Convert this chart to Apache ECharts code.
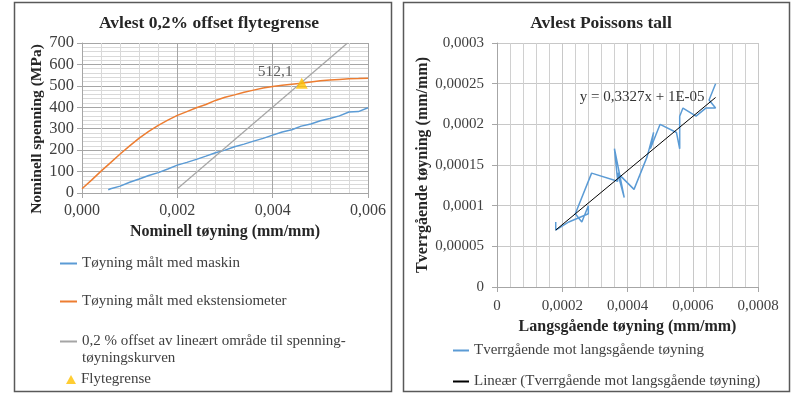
<!DOCTYPE html>
<html><head><meta charset="utf-8">
<script src="https://cdn.jsdelivr.net/npm/echarts@6/dist/echarts.min.js"></script>
<style>html,body{margin:0;padding:0;background:#fff}#c{width:793px;height:394px}</style>
</head><body><div id="c"></div>
<script>
// ---- Left chart data ----
const extX = [0,0.0002,0.0004,0.0006,0.0008,0.001,0.0012,0.0014,0.0016,0.0018,0.002,0.0022,0.0024,0.0026,0.0028,0.003,0.0032,0.0034,0.0036,0.0038,0.004,0.0042,0.0044,0.0046,0.0048,0.005,0.0052,0.0054,0.0056,0.0058,0.006];
const extY = [20,60,102,142,182,220,256,288,316,340,362,380,398,413,432,447,458,470,480,490,497,503,508,512,518,524,527,530,533,534,536];
const maskX = [0.00055,0.0006,0.0008,0.001,0.0012,0.0014,0.0016,0.0018,0.002,0.0022,0.0024,0.0026,0.0028,0.003,0.0032,0.0034,0.0036,0.0038,0.004,0.0042,0.0044,0.0046,0.0048,0.005,0.0052,0.0054,0.0056,0.0058,0.006];
const maskY = [15,20,32,50,65,82,95,112,130,143,157,172,188,200,216,228,242,255,270,285,295,312,322,337,348,360,378,380,398];
const offsetX = [0.002,0.00557];
const offsetY = [20,700];
const yieldX = [0.00461];
const yieldY = [512.1];
const leftXLabels = ['0,000','0,002','0,004','0,006'];
const leftYLabels = ['0','100','200','300','400','500','600','700'];
// ---- Right chart data ----
const poissonX = [0.00018,0.00018,0.00022,0.00028,0.00028,0.00026,0.00024,0.00029,0.00037,0.00036,0.00039,0.00037,0.00042,0.00046,0.00048,0.00047,0.00050,0.00055,0.00056,0.00056,0.00057,0.00061,0.00064,0.00067,0.00065,0.00067];
const poissonY = [0.00008,0.00007,0.00008,0.00009,0.0001,0.00008,0.00009,0.00014,0.00013,0.00017,0.00011,0.00014,0.00012,0.00016,0.00019,0.00017,0.0002,0.00019,0.00017,0.00021,0.00022,0.00021,0.00022,0.00022,0.00023,0.00025];
const trendX = [0.00018,0.00067];
const trendY = [0.00007,0.000233];
const trendText = 'y = 0,3327x + 1E-05';
const rightXLabels = ['0','0,0002','0,0004','0,0006','0,0008'];
const rightYLabels = ['0','0,00005','0,0001','0,00015','0,0002','0,00025','0,0003'];

const names = {
  mask: 'Tøyning målt med maskin',
  ext: 'Tøyning målt med ekstensiometer',
  off: '0,2 % offset av lineært område til spenning-tøyningskurven',
  yld: 'Flytegrense',
  poi: 'Tverrgående mot langsgående tøyning',
  lin: 'Lineær (Tverrgående mot langsgående tøyning)'
};

const zip = (a, b) => a.map((v, i) => [v, b[i]]);
const FONT = 'Liberation Serif';
const TXT = '#404040';

const chart = echarts.init(document.getElementById('c'), null, {renderer: 'canvas'});

function axisBase(major, minor) {
  return {
    type: 'value',
    axisLine: {show: true, lineStyle: {color: '#a6a6a6', width: 1}},
    axisTick: {show: true, inside: false, length: 5, lineStyle: {color: '#a6a6a6'}},
    splitLine: {show: true, lineStyle: {color: major, width: 1}},
    minorTick: {show: false, splitNumber: 5},
    minorSplitLine: {show: !!minor, lineStyle: {color: minor || '#fff', width: 1}},
    nameLocation: 'middle',
    nameTextStyle: {color: '#262626', fontFamily: FONT, fontSize: 16, fontWeight: 'bold'}
  };
}

const legendText = {color: TXT, fontFamily: FONT, fontSize: 15};
function lg(name, left, top, icon, w, h) {
  return {
    data: [{name: name, icon: icon}], left: left, top: top, orient: 'vertical',
    itemWidth: w, itemHeight: h, itemGap: 0, padding: 0,
    textStyle: legendText, selectedMode: false,
    formatter: n => n === names.off ? '0,2 % offset av lineært område til spenning-' : n
  };
}

const option = {
  animation: false,
  backgroundColor: '#fff',
  title: [
    {text: 'Avlest 0,2% offset flytegrense', left: 204, top: 9, textAlign: 'center',
     textStyle: {fontFamily: FONT, fontSize: 17.5, fontWeight: 'bold', color: '#262626'}},
    {text: 'Avlest Poissons tall', left: 596, top: 9, textAlign: 'center',
     textStyle: {fontFamily: FONT, fontSize: 17.5, fontWeight: 'bold', color: '#262626'}}
  ],
  grid: [
    {left: 82, right: 425, top: 43, bottom: 201},
    {left: 497, right: 35, top: 43, bottom: 107}
  ],
  xAxis: [
    Object.assign(axisBase('#a6a6a6', '#d9d9d9'), {
      gridIndex: 0, min: 0, max: 0.006, interval: 0.002,
      name: 'Nominell tøyning (mm/mm)', nameGap: 31,
      axisLabel: {color: TXT, fontFamily: FONT, fontSize: 16, margin: 10,
        formatter: v => leftXLabels[Math.round(v / 0.002)]}
    }),
    Object.assign(axisBase('#c8c8c8', '#d0d0d0'), {
      gridIndex: 1, min: 0, max: 0.0008, interval: 0.0002,
      name: 'Langsgående tøyning (mm/mm)', nameGap: 30,
      axisLabel: {color: TXT, fontFamily: FONT, fontSize: 15, margin: 12,
        formatter: v => rightXLabels[Math.round(v / 0.0002)]}
    })
  ],
  yAxis: [
    Object.assign(axisBase('#a6a6a6', '#d9d9d9'), {
      gridIndex: 0, min: 0, max: 700, interval: 100,
      name: 'Nominell spenning (MPa)', nameGap: 37,
      nameTextStyle: {color: '#262626', fontFamily: FONT, fontSize: 15.5, fontWeight: 'bold', padding: [0, 22, 0, 0]},
      axisLabel: {color: TXT, fontFamily: FONT, fontSize: 16.5, margin: 8,
        formatter: v => leftYLabels[Math.round(v / 100)]}
    }),
    Object.assign(axisBase('#c8c8c8', null), {
      gridIndex: 1, min: 0, max: 0.0003, interval: 0.00005,
      name: 'Tverrgående tøyning (mm/mm)', nameGap: 60,
      axisLabel: {color: TXT, fontFamily: FONT, fontSize: 15, margin: 13,
        formatter: v => rightYLabels[Math.round(v / 0.00005)]}
    })
  ],
  legend: [
    lg(names.mask, 60, 256, 'rect', 17, 2),
    lg(names.ext, 60, 294, 'rect', 17, 2),
    lg(names.off, 60, 334, 'rect', 17, 2),
    lg(names.yld, 66, 372, 'triangle', 10, 9),
    lg(names.poi, 453, 343, 'rect', 16, 2),
    lg(names.lin, 453, 374, 'rect', 16, 2)
  ],
  graphic: [
    {type: 'rect', shape: {x: 14.5, y: 2.5, width: 377, height: 389}, style: {fill: 'none', stroke: '#595959', lineWidth: 1.5}, silent: true, z: 0},
    {type: 'rect', shape: {x: 403.5, y: 2.5, width: 386, height: 389}, style: {fill: 'none', stroke: '#595959', lineWidth: 1.5}, silent: true, z: 0},
    {type: 'text', left: 82, top: 351, style: {text: 'tøyningskurven', fill: TXT, font: '15px "Liberation Serif"'}}
  ],
  series: [
    {name: names.mask, type: 'line', xAxisIndex: 0, yAxisIndex: 0, data: zip(maskX, maskY),
     symbol: 'none', lineStyle: {color: '#5B9BD5', width: 1.5}, itemStyle: {color: '#5B9BD5'}},
    {name: names.ext, type: 'line', xAxisIndex: 0, yAxisIndex: 0, data: zip(extX, extY),
     symbol: 'none', lineStyle: {color: '#ED7D31', width: 1.5}, itemStyle: {color: '#ED7D31'}},
    {name: names.off, type: 'line', xAxisIndex: 0, yAxisIndex: 0, data: zip(offsetX, offsetY),
     symbol: 'none', lineStyle: {color: '#A5A5A5', width: 1.2}, itemStyle: {color: '#A5A5A5'}},
    {name: names.yld, type: 'scatter', xAxisIndex: 0, yAxisIndex: 0, data: zip(yieldX, yieldY),
     symbol: 'triangle', symbolSize: [12, 11], itemStyle: {color: '#FFC000'}, z: 5,
     label: {show: true, position: 'left', distance: 3, offset: [0, -11], color: '#333', fontFamily: FONT, fontSize: 15.5,
       formatter: p => String(p.value[1]).replace('.', ',')}},
    {name: names.poi, type: 'line', xAxisIndex: 1, yAxisIndex: 1, data: zip(poissonX, poissonY),
     symbol: 'none', lineStyle: {color: '#5B9BD5', width: 1.5}, itemStyle: {color: '#5B9BD5'}},
    {name: names.lin, type: 'line', xAxisIndex: 1, yAxisIndex: 1,
     data: zip(trendX, trendY).map((d, i) => i === trendX.length - 1
       ? {value: d, label: {show: true, position: 'left', distance: 10, formatter: trendText, color: '#333', fontFamily: FONT, fontSize: 15}}
       : {value: d}),
     showSymbol: true, symbolSize: 0.01, lineStyle: {color: '#000', width: 1}, itemStyle: {color: '#000'}, z: 4}
  ]
};
chart.setOption(option);
</script>
</body></html>
